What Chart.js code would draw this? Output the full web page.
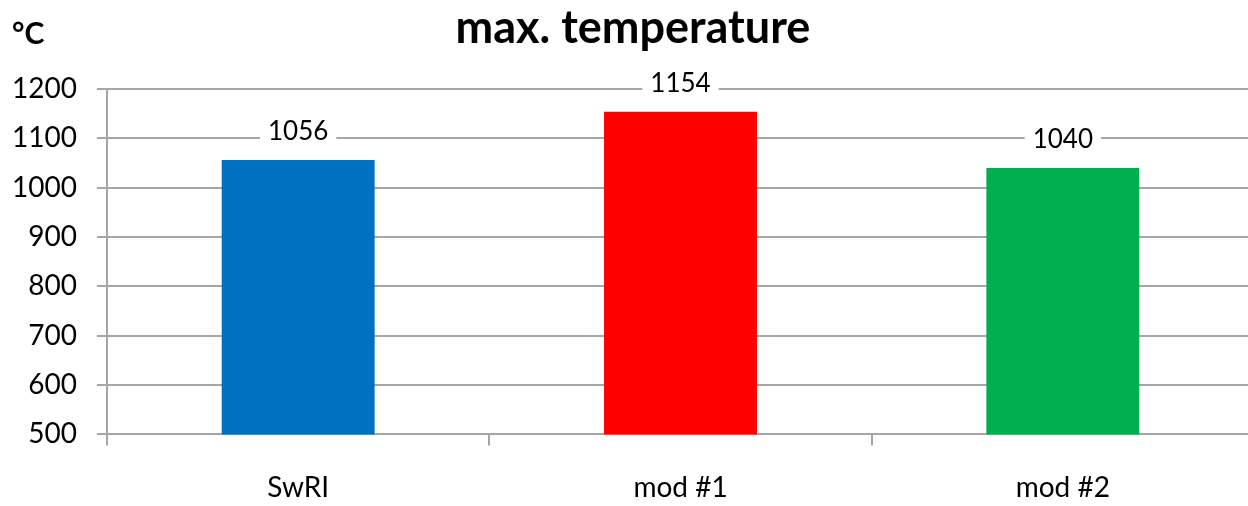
<!DOCTYPE html>
<html>
<head>
<meta charset="utf-8">
<script src="https://cdn.jsdelivr.net/npm/chart.js@4/dist/chart.umd.min.js"></script>
<style>
  html, body { margin: 0; padding: 0; background: #fff; overflow: hidden; }
  #wrap { position: relative; width: 1254px; height: 531px; }
  #unit { position: absolute; left: 12px; top: 14px; font: bold 30px Lato, sans-serif; color: #000; }
</style>
</head>
<body>
<div id="wrap">
  <canvas id="chart"></canvas>
  <div id="unit">°C</div>
</div>
<script>
// categories and values
const categories = ['SwRI', 'mod #1', 'mod #2'];
const maxTemp = [1056, 1154, 1040];
const barColors = ['#0070C0', '#FF0000', '#00B050'];
const yTicks = [500, 600, 700, 800, 900, 1000, 1100, 1200];

const gridGray = '#a6a6a6';

// value labels on a white box above each bar
const valueLabels = {
  id: 'valueLabels',
  afterDatasetsDraw(chart) {
    const ctx = chart.ctx;
    const meta = chart.getDatasetMeta(0);
    ctx.save();
    ctx.font = '26px Lato, sans-serif';
    ctx.textAlign = 'center';
    ctx.textBaseline = 'middle';
    meta.data.forEach((bar, i) => {
      const txt = String(maxTemp[i]);
      const w = ctx.measureText(txt).width + 16;
      const cy = bar.y - 28;
      ctx.fillStyle = '#fff';
      ctx.fillRect(bar.x - w / 2, cy - 16, w, 32);
      ctx.fillStyle = '#000';
      ctx.fillText(txt, bar.x, cy);
    });
    ctx.restore();
  }
};

new Chart(document.getElementById('chart'), {
  type: 'bar',
  data: {
    labels: categories,
    datasets: [{
      data: maxTemp,
      backgroundColor: barColors,
      borderWidth: 0,
      barPercentage: 0.4,
      categoryPercentage: 1
    }]
  },
  options: {
    responsive: true,
    maintainAspectRatio: false,
    animation: false,
    layout: { padding: { left: 12, right: 0, top: 0, bottom: 0 } },
    plugins: {
      legend: { display: false },
      tooltip: { enabled: false },
      title: {
        display: true,
        text: 'max. temperature',
        color: '#000',
        font: { family: 'Lato', size: 45, weight: 'bold' },
        padding: { top: 1, bottom: 34 }
      }
    },
    scales: {
      x: {
        grid: { offset: true, drawOnChartArea: false, color: gridGray, tickLength: 11, lineWidth: 2 },
        border: { color: gridGray, width: 2 },
        ticks: { color: '#000', padding: 26, font: { family: 'Lato', size: 28 } }
      },
      y: {
        min: 500,
        max: 1200,
        afterBuildTicks(axis) { axis.ticks = yTicks.map(v => ({ value: v })); },
        // fixed axis width so the plot starts at x = 107
        afterFit(axis) { axis.width = 95; },
        grid: { color: gridGray, tickLength: 10, lineWidth: 2 },
        border: { color: gridGray, width: 2 },
        ticks: { color: '#000', padding: 20, font: { family: 'Lato', size: 28 }, callback: v => String(v) }
      }
    }
  },
  plugins: [valueLabels]
});
</script>
</body>
</html>
